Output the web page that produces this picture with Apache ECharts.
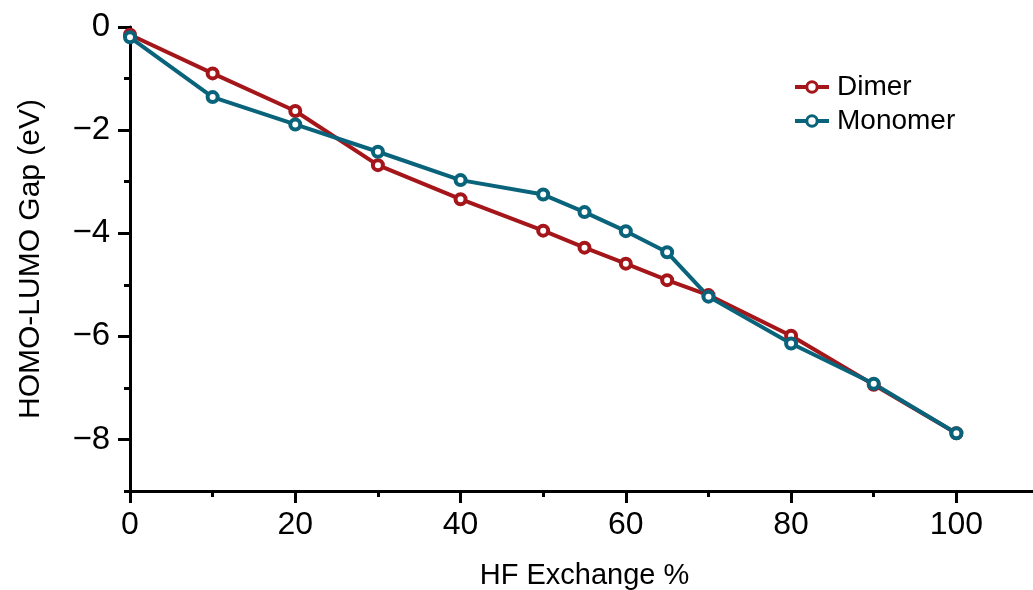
<!DOCTYPE html>
<html>
<head>
<meta charset="utf-8">
<script src="https://cdn.jsdelivr.net/npm/echarts@6/dist/echarts.min.js"></script>
<style>
html,body{margin:0;padding:0;background:#fff;}
#chart{width:1033px;height:590px;}
</style>
</head>
<body>
<div id="chart"></div>
<script>
var hfExchange = [0, 10, 20, 30, 40, 50, 55, 60, 65, 70, 80, 90, 100];
var dimer   = [-0.15, -0.90, -1.63, -2.68, -3.34, -3.95, -4.28, -4.59, -4.91, -5.20, -5.99, -6.94, -7.88];
var monomer = [-0.20, -1.36, -1.89, -2.42, -2.97, -3.25, -3.59, -3.96, -4.37, -5.23, -6.14, -6.92, -7.88];
var xMajorTicks = [0, 20, 40, 60, 80, 100];
var xMinorTicks = [10, 30, 50, 70, 90];
var yMajorTicks = [0, -2, -4, -6, -8];
var yMinorTicks = [-1, -3, -5, -7, -9];

var FONT = '"Liberation Sans", Arial, Helvetica, sans-serif';
function pairs(xs, ys){ return xs.map(function(x,i){ return [x, ys[i]]; }); }
function minus(v){ return String(v).replace('-', '\u2212'); }

var chart = echarts.init(document.getElementById('chart'), null, {renderer:'canvas'});
var axisLineStyle = {color:'#000', width:3};
var gridBox = {left:130, top:27, width:909, height:464, containLabel:false, outerBoundsMode:'none'};
chart.setOption({
  animation:false,
  backgroundColor:'#fff',
  textStyle:{fontFamily:FONT},
  grid:[Object.assign({}, gridBox), Object.assign({}, gridBox)],
  legend:{
    orient:'vertical', left:788, top:68,
    itemWidth:34, itemHeight:13, itemGap:6,
    lineStyle:{width:4},
    itemStyle:{borderWidth:3},
    textStyle:{fontFamily:FONT, fontSize:28, color:'#000', padding:[0,0,0,3]},
    data:['Dimer','Monomer']
  },
  xAxis:[{
    gridIndex:0, type:'value', min:0, max:110, position:'bottom',
    name:'HF Exchange %', nameLocation:'middle', nameGap:70,
    nameTextStyle:{fontFamily:FONT, fontSize:29, color:'#000'},
    axisLine:{show:true, onZero:false, lineStyle:axisLineStyle},
    axisTick:{show:true, customValues:xMajorTicks, length:12, lineStyle:{color:'#000', width:3}},
    axisLabel:{show:true, customValues:xMajorTicks, fontFamily:FONT, fontSize:32, color:'#000', margin:18},
    splitLine:{show:false}
  },{
    gridIndex:1, type:'value', min:0, max:110, position:'bottom',
    axisLine:{show:false, onZero:false},
    axisTick:{show:true, customValues:xMinorTicks, length:6, lineStyle:{color:'#000', width:3}},
    axisLabel:{show:false},
    splitLine:{show:false}
  }],
  yAxis:[{
    gridIndex:0, type:'value', min:-9, max:0, position:'left',
    name:'HOMO-LUMO Gap (eV)', nameLocation:'middle', nameGap:84,
    nameTextStyle:{fontFamily:FONT, fontSize:30, color:'#000'},
    axisLine:{show:true, onZero:false, lineStyle:axisLineStyle},
    axisTick:{show:true, customValues:yMajorTicks, length:12, lineStyle:{color:'#000', width:3}},
    axisLabel:{show:true, customValues:yMajorTicks, fontFamily:FONT, fontSize:33, color:'#000', margin:20,
      padding:[6,0,0,0],
      formatter:function(v){ return minus(v); }},
    splitLine:{show:false}
  },{
    gridIndex:1, type:'value', min:-9, max:0, position:'left',
    axisLine:{show:false, onZero:false},
    axisTick:{show:true, customValues:yMinorTicks, length:6, lineStyle:{color:'#000', width:3}},
    axisLabel:{show:false},
    splitLine:{show:false}
  }],
  series:[{
    name:'Dimer', type:'line', xAxisIndex:0, yAxisIndex:0,
    data:pairs(hfExchange, dimer),
    symbol:'circle', symbolSize:10, clip:false,
    lineStyle:{color:'#a5161b', width:4},
    itemStyle:{color:'#ffffff', borderColor:'#a5161b', borderWidth:4},
    color:'#a5161b'
  },{
    name:'Monomer', type:'line', xAxisIndex:0, yAxisIndex:0,
    data:pairs(hfExchange, monomer),
    symbol:'circle', symbolSize:10, clip:false,
    lineStyle:{color:'#09637a', width:4},
    itemStyle:{color:'#ffffff', borderColor:'#09637a', borderWidth:4},
    color:'#09637a'
  }]
});
</script>
</body>
</html>
